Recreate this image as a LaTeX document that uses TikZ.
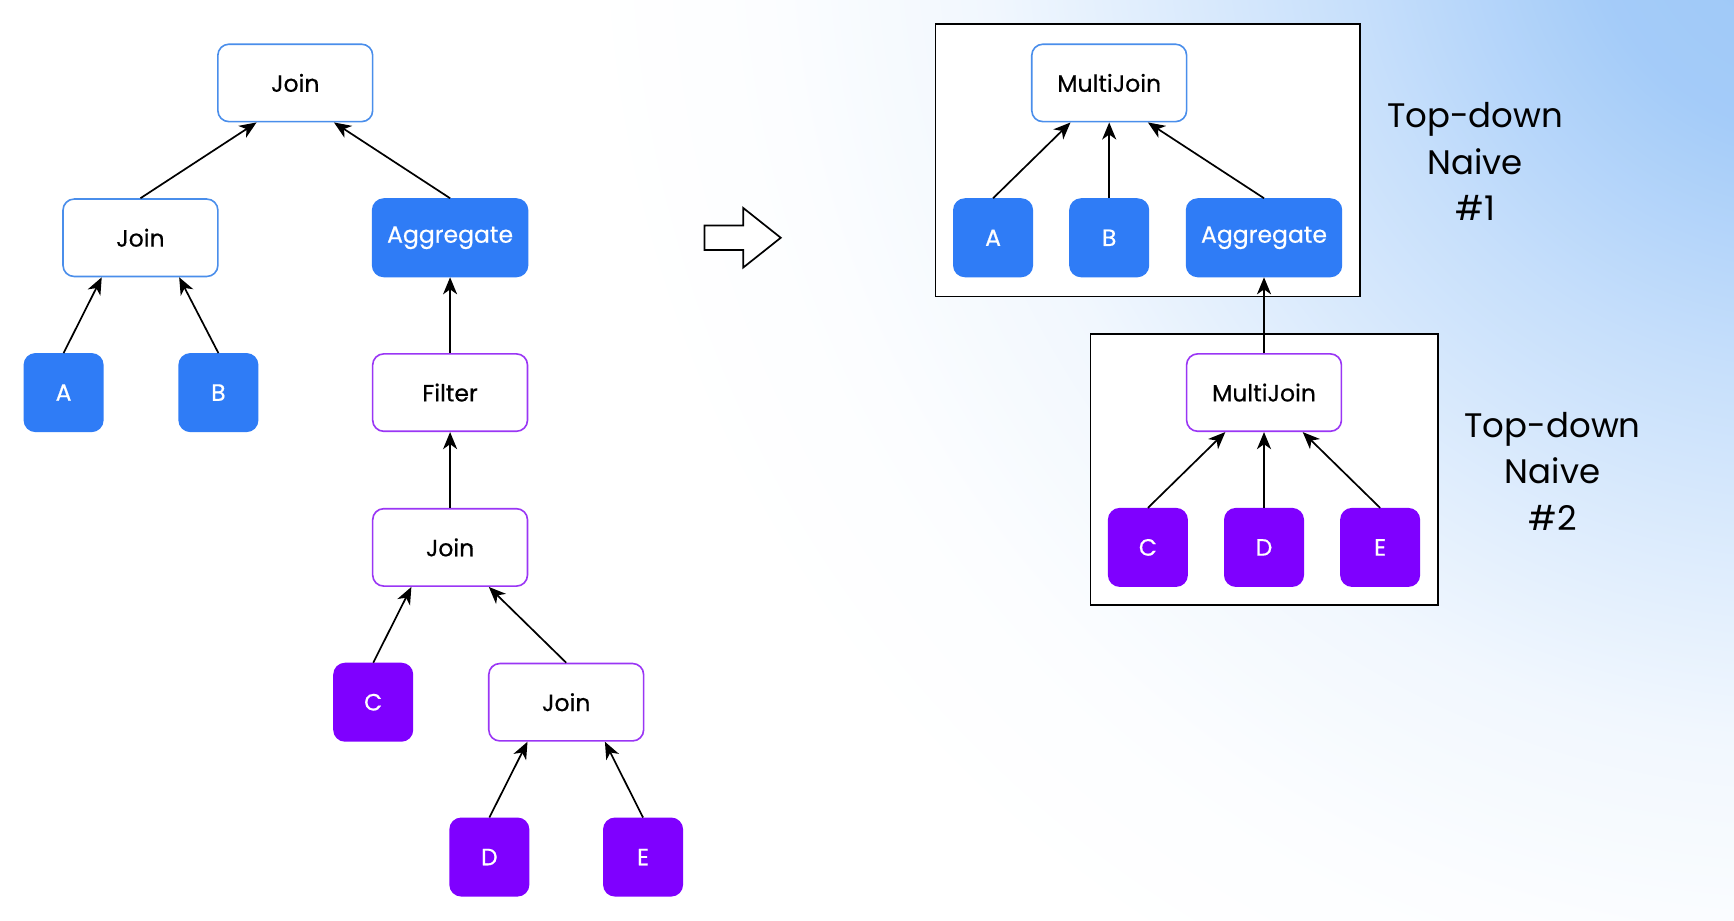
\documentclass[tikz,border=0pt]{standalone}
\usepackage{fontspec}
\setmainfont{Poppins}
\newfontfamily\nodefont{Poppins}[FakeBold=0.5]
\usetikzlibrary{arrows.meta,calc}
\definecolor{nblue}{HTML}{2F7CF6}
\definecolor{npurp}{HTML}{7F00FF}
\definecolor{bblue}{HTML}{4A8EEB}
\definecolor{bpurp}{HTML}{9A36F5}
\definecolor{bgb}{HTML}{9CC7F8}
\pgfdeclareradialshading{bgshade}{\pgfpoint{0bp}{0bp}}{color(0bp)=(bgb); color(3.6bp)=(bgb!92!white); color(7.5bp)=(bgb!57!white); color(10.7bp)=(bgb!33!white); color(13.4bp)=(bgb!14!white); color(17bp)=(bgb!3!white); color(20bp)=(white); color(50bp)=(white)}
\tikzset{
  base/.style={rounded corners=5.5pt, line width=0.8pt, inner sep=0pt, align=center, font=\nodefont\fontsize{11.7}{13}\selectfont},
  wide/.style={base, minimum width=77pt, minimum height=38.5pt},
  sq/.style={base, minimum width=39pt, minimum height=38.5pt},
  wblue/.style={wide, draw=bblue, fill=white, text=black},
  wpurp/.style={wide, draw=bpurp, fill=white, text=black},
  fblue/.style={fill=nblue, draw=nblue, text=white},
  fpurp/.style={fill=npurp, draw=npurp, text=white},
  arr/.style={-{Stealth[length=8.5pt,width=7pt,inset=2.5pt]}, line width=0.85pt, black},
  frame/.style={draw=black, fill=white, line width=0.85pt},
  lbl/.style={align=center, font=\fontsize{16.9}{23.1}\selectfont, text=black}
}
\begin{document}
\begin{tikzpicture}[x=0.55pt,y=-0.55pt]
\useasboundingbox (0,0) rectangle (1568,832);
\begin{scope}
\clip (0,0) rectangle (1568,832);
\fill[white] (0,0) rectangle (1568,832);
\shade[shading=bgshade] (1640,-80) circle (1400);
\end{scope}
% left tree
\node[wblue] (J1) at (267,75) {Join};
\node[wblue] (J2) at (127,215) {Join};
\node[wide,fblue] (AG) at (407,215) {Aggregate};
\node[sq,fblue] (A) at (57.5,355) {A};
\node[sq,fblue] (B) at (197.5,355) {B};
\node[wpurp] (F) at (407,355) {Filter};
\node[wpurp] (J3) at (407,495) {Join};
\node[sq,fpurp] (C) at (337.5,635) {C};
\node[wpurp] (J4) at (512,635) {Join};
\node[sq,fpurp] (D) at (442.5,775) {D};
\node[sq,fpurp] (E) at (581.5,775) {E};
\draw[arr] (J2.north) -- ($(J1.south)+(-35,0)$);
\draw[arr] (AG.north) -- ($(J1.south)+(35,0)$);
\draw[arr] (A.north) -- ($(J2.south)+(-35,0)$);
\draw[arr] (B.north) -- ($(J2.south)+(35,0)$);
\draw[arr] (F.north) -- (AG.south);
\draw[arr] (J3.north) -- (F.south);
\draw[arr] (C.north) -- ($(J3.south)+(-35,0)$);
\draw[arr] (J4.north) -- ($(J3.south)+(35,0)$);
\draw[arr] (D.north) -- ($(J4.south)+(-35,0)$);
\draw[arr] (E.north) -- ($(J4.south)+(35,0)$);
% hollow arrow
\draw[line width=0.85pt, fill=white, line join=miter] (637,204) -- (672,204) -- (672,188) -- (706,215) -- (672,242) -- (672,226) -- (637,226) -- cycle;
% right side
\node[frame, minimum width=211.2pt, minimum height=135.3pt, inner sep=0pt] (F1) at (1038,145) {};
\node[frame, minimum width=172.7pt, minimum height=134.75pt, inner sep=0pt] (F2) at (1143,424.5) {};
\node[wblue] (M1) at (1003,75) {MultiJoin};
\node[sq,fblue] (A2) at (898,215) {A};
\node[sq,fblue] (B2) at (1003,215) {B};
\node[wide,fblue] (AG2) at (1143,215) {Aggregate};
\node[wpurp] (M2) at (1143,355) {MultiJoin};
\node[sq,fpurp] (C2) at (1038,495) {C};
\node[sq,fpurp] (D2) at (1143,495) {D};
\node[sq,fpurp] (E2) at (1248,495) {E};
\draw[arr] (A2.north) -- ($(M1.south)+(-35,0)$);
\draw[arr] (B2.north) -- (M1.south);
\draw[arr] (AG2.north) -- ($(M1.south)+(35,0)$);
\draw[arr] (M2.north) -- (AG2.south);
\draw[arr] (C2.north) -- ($(M2.south)+(-35,0)$);
\draw[arr] (D2.north) -- (M2.south);
\draw[arr] (E2.north) -- ($(M2.south)+(35,0)$);
\node[lbl] (L1) at (1334,146) {Top-down\\Naive\\\#1};
\node[lbl] (L2) at (1404,426) {Top-down\\Naive\\\#2};
\end{tikzpicture}
\end{document}
